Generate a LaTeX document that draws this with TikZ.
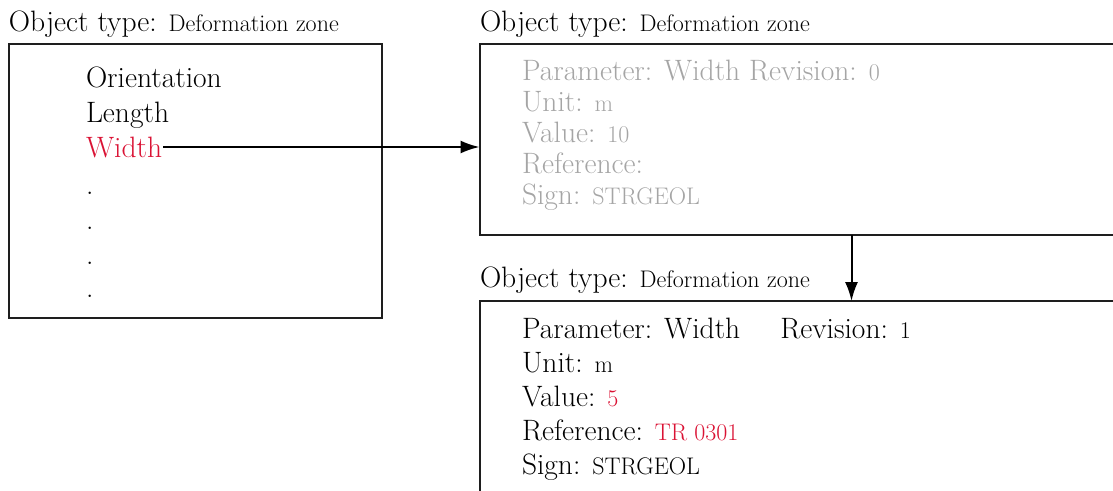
\documentclass[tikz,border=0pt]{standalone}
\usepackage{fontspec}
\usetikzlibrary{arrows.meta}
\definecolor{redtxt}{RGB}{218,18,52}
\definecolor{greytxt}{RGB}{165,165,165}
\definecolor{frame}{RGB}{30,30,30}
\newcommand{\bigsz}{\fontsize{29.5}{35}\selectfont}
\newcommand{\smsz}{\fontsize{24}{28}\selectfont}
\tikzset{
  txt/.style={anchor=base west, inner sep=0pt, outer sep=0pt},
  ttl/.style={txt, font=\bigsz},
  bigtxt/.style={txt, font=\bigsz},
  greyline/.style={txt, font=\bigsz, text=greytxt},
  boxframe/.style={draw=frame, line width=2pt, anchor=north west, inner sep=0pt, outer sep=0pt},
  conn/.style={line width=2pt, -{Latex[length=19pt,width=13pt]}}
}
\begin{document}
\begin{tikzpicture}[x=1pt,y=-1pt]
\useasboundingbox (0,0) rectangle (1113,490);
% left
\node[ttl] (t1) at (9,31) {Object type: {\smsz Deformation zone}};
\node[boxframe, minimum width=373pt, minimum height=274pt] (box1) at (9,43.5) {};
\node[bigtxt] (o1) at (86,87) {Orientation};
\node[bigtxt] (o2) at (86,122) {Length};
\node[bigtxt, text=redtxt] (o3) at (86,157) {Width};
\node[bigtxt] (d1) at (86,194) {.};
\node[bigtxt] (d2) at (86,229) {.};
\node[bigtxt] (d3) at (86,264) {.};
\node[bigtxt] (d4) at (86,297) {.};
% top right
\node[ttl] (t2) at (480,31) {Object type: {\smsz Deformation zone}};
\node[boxframe, minimum width=700pt, minimum height=190.5pt] (box2) at (479.5,44) {};
\node[greyline] (p1) at (522,80) {Parameter: Width Revision: {\smsz 0}};
\node[greyline] (p2) at (522,111) {Unit: {\smsz m}};
\node[greyline] (p3) at (522,142) {Value: {\smsz 10}};
\node[greyline] (p4) at (522,173) {Reference:};
\node[greyline] (p5) at (522,204) {Sign: {\smsz STRGEOL}};
% bottom right
\node[ttl] (t3) at (480,287) {Object type: {\smsz Deformation zone}};
\node[boxframe, minimum width=700pt, minimum height=250pt] (box3) at (479.5,301) {};
\node[bigtxt] (q1) at (522,338) {Parameter: Width\hspace{40pt}Revision: {\smsz 1}};
\node[bigtxt] (q2) at (522,372) {Unit: {\smsz m}};
\node[bigtxt] (q3) at (522,406) {Value: {\smsz\color{redtxt}5}};
\node[bigtxt] (q4) at (522,440) {Reference: {\smsz\color{redtxt}TR 0301}};
\node[bigtxt] (q5) at (522,474) {Sign: {\smsz STRGEOL}};
% connectors
\coordinate (vx) at (851.5,0);
\draw[conn] ([xshift=1pt]o3.east) -- (o3.east -| box2.west);
\draw[conn] (box2.south -| vx) -- (box3.north -| vx);
\end{tikzpicture}
\end{document}
